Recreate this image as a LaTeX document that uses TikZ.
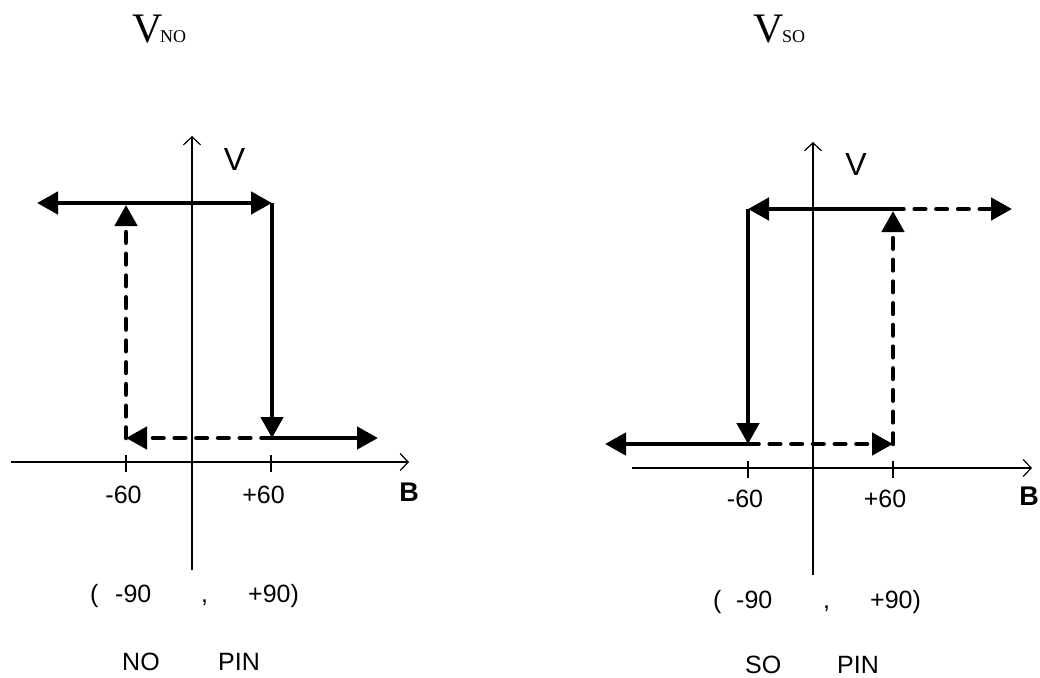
\documentclass[tikz,border=0pt]{standalone}
\usepackage{fontspec}
\setmainfont{Liberation Sans}
\newfontfamily\titleserif{Liberation Serif}
\usetikzlibrary{arrows.meta}
\begin{document}
\begin{tikzpicture}[x=1pt,y=-1pt,
  axis/.style={line width=1.2pt,-{Straight Barb[length=8pt,width=17pt,line width=1.2pt]}},
  tickmark/.style={line width=1.2pt},
  hyst/.style={line width=4.6pt,-{Triangle[length=21pt,width=22pt]}},
  hystboth/.style={line width=4.6pt,{Triangle[length=21pt,width=22pt]}-{Triangle[length=21pt,width=22pt]}},
  hystd/.style={hyst,dash pattern=on 10.5pt off 11.2pt,line cap=round},
  lab/.style={inner sep=0pt,anchor=base,font=\fontsize{25}{30}\selectfont},
  labw/.style={inner sep=0pt,anchor=base west,font=\fontsize{25}{30}\selectfont},
  blab/.style={inner sep=0pt,anchor=base,font=\fontsize{27}{32}\selectfont\bfseries},
  vlab/.style={inner sep=0pt,anchor=base,font=\fontsize{32}{38}\selectfont},
  tV/.style={inner sep=0pt,anchor=base west,font=\titleserif\fontsize{42}{48}\selectfont},
  tsub/.style={inner sep=0pt,anchor=base west,font=\titleserif\fontsize{18}{22}\selectfont},
]
\useasboundingbox (0,0) rectangle (1040,677);

% ---------- left diagram ----------
\coordinate (lXs) at (11,462);
\coordinate (lXe) at (409,462);
\coordinate (lYs) at (192,570);
\coordinate (lYe) at (192,136);
\draw[axis] (lXs) -- (lXe);
\draw[axis] (lYs) -- (lYe);
\coordinate (lT1a) at (126,455); \coordinate (lT1b) at (126,472);
\coordinate (lT2a) at (271,455); \coordinate (lT2b) at (271,472);
\draw[tickmark] (lT1a) -- (lT1b);
\draw[tickmark] (lT2a) -- (lT2b);

\coordinate (lTL) at (126,203);
\coordinate (lTLa) at (126,205);
\coordinate (lTR) at (272,203);
\coordinate (lBL) at (126,438);
\coordinate (lBR) at (272,438);
\coordinate (lFarL) at (37,203);
\coordinate (lFarR) at (378,438);
\draw[hystboth] (lFarL) -- (lTR);
\draw[hyst] (lTR) -- (lBR);
\draw[hyst] (lBR) -- (lFarR);
\draw[hystd] (lBR) -- (lBL);
\draw[hystd] (lBL) -- (lTLa);

\node[vlab] (lV) at (234.5,170) {V};
\node[lab] (lm60) at (123.5,503) {-60};
\node[lab] (lp60) at (263.5,503) {+60};
\node[blab] (lB) at (409,501) {B};
\node[labw] (lpo) at (90,602) {(};
\node[labw] (lm90) at (115,602) {-90};
\node[labw] (lcm) at (201,602) {,};
\node[labw] (lp90) at (248,602) {+90)};
\node[labw] (lNO) at (122,670) {NO};
\node[labw] (lPIN) at (218,670) {PIN};
\node[tV] (lTV) at (132,42) {V};
\node[tsub] (lTsub) at (160,42) {NO};

% ---------- right diagram ----------
\coordinate (rXs) at (632,468);
\coordinate (rXe) at (1032,468);
\coordinate (rYs) at (813,575);
\coordinate (rYe) at (813,142);
\draw[axis] (rXs) -- (rXe);
\draw[axis] (rYs) -- (rYe);
\coordinate (rT1a) at (748,461); \coordinate (rT1b) at (748,478);
\coordinate (rT2a) at (893,461); \coordinate (rT2b) at (893,478);
\draw[tickmark] (rT1a) -- (rT1b);
\draw[tickmark] (rT2a) -- (rT2b);

\coordinate (rTL) at (748,209);
\coordinate (rTR) at (893,209);
\coordinate (rTRa) at (893,211);
\coordinate (rBL) at (748,444);
\coordinate (rBR) at (893,444);
\coordinate (rFarL) at (605,444);
\coordinate (rFarR) at (1012,209);
\draw[hyst] (rTR) -- (rTL);
\draw[hystd] (rTR) -- (rFarR);
\draw[hyst] (rTL) -- (rBL);
\draw[hyst] (rBL) -- (rFarL);
\draw[hystd] (rBL) -- (rBR);
\draw[hystd] (rBR) -- (rTRa);

\node[vlab] (rV) at (856,175) {V};
\node[lab] (rm60) at (745,507) {-60};
\node[lab] (rp60) at (885,507) {+60};
\node[blab] (rB) at (1029,505) {B};
\node[labw] (rpo) at (713,608) {(};
\node[labw] (rm90) at (736,608) {-90};
\node[labw] (rcm) at (823,608) {,};
\node[labw] (rp90) at (870,608) {+90)};
\node[labw] (rSO) at (745,673) {SO};
\node[labw] (rPIN) at (837,673) {PIN};
\node[tV] (rTV) at (753,43) {V};
\node[tsub] (rTsub) at (782,43) {SO};
\end{tikzpicture}
\end{document}
